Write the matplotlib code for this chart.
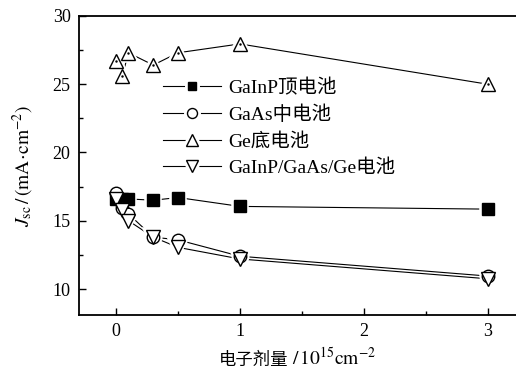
import matplotlib
matplotlib.use("Agg")
import matplotlib.pyplot as plt
from matplotlib.offsetbox import TextArea, HPacker, AnchoredOffsetbox
from matplotlib.ticker import MultipleLocator

plt.rcParams['font.family'] = ['Liberation Serif', 'Noto Sans CJK SC']
plt.rcParams['mathtext.fontset'] = 'stix'

# Electron dose (1e15 cm^-2)
dose = [0, 0.05, 0.1, 0.3, 0.5, 1, 3]

# Jsc values (mA/cm^2)
jsc_top = [16.6, 16.6, 16.6, 16.5, 16.7, 16.05, 15.85]
jsc_mid = [17.05, 15.95, 15.5, 13.8, 13.6, 12.4, 10.95]
jsc_bot = [26.7, 25.6, 27.3, 26.4, 27.3, 27.95, 25.0]
jsc_all = [16.6, 15.8, 15.0, 13.8, 13.05, 12.2, 10.75]

labels = ['GaInP顶电池', 'GaAs中电池', 'Ge底电池', 'GaInP/GaAs/Ge电池']
series = [jsc_top, jsc_mid, jsc_bot, jsc_all]
markers = ['s', 'o', '^', 'v']
sizes = [8, 9, 10, 10]
faces = ['black', 'white', 'white', 'white']

fig = plt.figure(figsize=(5.16, 3.79), dpi=100)
ax = fig.add_axes([0.153, 0.169, 0.847, 0.789])

for y, m, ms, fc in zip(series, markers, sizes, faces):
    ax.plot(dose, y, '-', color='black', lw=0.8, zorder=1)
    # white halo so the lines stop short of the markers
    ax.plot(dose, y, m, ls='none', ms=ms, mfc='white', mec='white',
            mew=4, zorder=2)
    ax.plot(dose, y, m, ls='none', ms=ms, mfc=fc, mec='black',
            mew=1.0, zorder=3)

# small dots inside the up triangles
ax.plot(dose, jsc_bot, '.', color='black', ms=1.5, ls='none', zorder=4)

ax.set_xlim(-0.3, 3.23)
ax.set_ylim(8.1, 30)
ax.xaxis.set_major_locator(MultipleLocator(1))
ax.xaxis.set_minor_locator(MultipleLocator(0.5))
ax.yaxis.set_major_locator(MultipleLocator(5))
ax.yaxis.set_minor_locator(MultipleLocator(2.5))
ax.tick_params(which='both', direction='in', top=False, right=False,
               labelsize=13, width=1.0)
ax.tick_params(which='major', length=5, pad=6)
ax.tick_params(which='minor', length=3)
ax.spines['right'].set_visible(False)
for s in ['left', 'bottom', 'top']:
    ax.spines[s].set_linewidth(1.3)

ax.set_ylabel(r'$J_{\mathrm{sc}}\,/\,(\mathrm{mA}\!\cdot\!\mathrm{cm}^{-2})$',
              fontsize=14, labelpad=12)

# x label: CJK part and math part packed side by side
t1 = TextArea('电子剂量', textprops=dict(fontsize=12.5,
                                          family=['Noto Sans CJK SC']))
t2 = TextArea(r'$/\,10^{15}\mathrm{cm}^{-2}$', textprops=dict(fontsize=14))
box = HPacker(children=[t1, t2], align='baseline', pad=0, sep=3)
anch = AnchoredOffsetbox(loc='center', child=box, frameon=False,
                         bbox_to_anchor=(0.5, -0.145),
                         bbox_transform=ax.transAxes, borderpad=0)
ax.add_artist(anch)

# legend with line segments on both sides of a smaller marker
leg_handles = []
for m, ms, fc in zip(markers, sizes, faces):
    ln, = ax.plot([], [], '-', color='black', lw=0.8)
    h, = ax.plot([], [], m, ls='none', ms=ms * 0.8, mfc='white', mec='white',
                 mew=5)
    k, = ax.plot([], [], m, ls='none', ms=ms * 0.8, mfc=fc, mec='black',
                 mew=1.0)
    leg_handles.append((ln, h, k))

ax.legend(leg_handles, labels, loc='upper left',
          bbox_to_anchor=(0.192, 0.79), frameon=False, fontsize=14,
          handlelength=3.0, handletextpad=0.35, labelspacing=0.45,
          borderaxespad=0, borderpad=0)

fig.savefig('out.png', dpi=100)
